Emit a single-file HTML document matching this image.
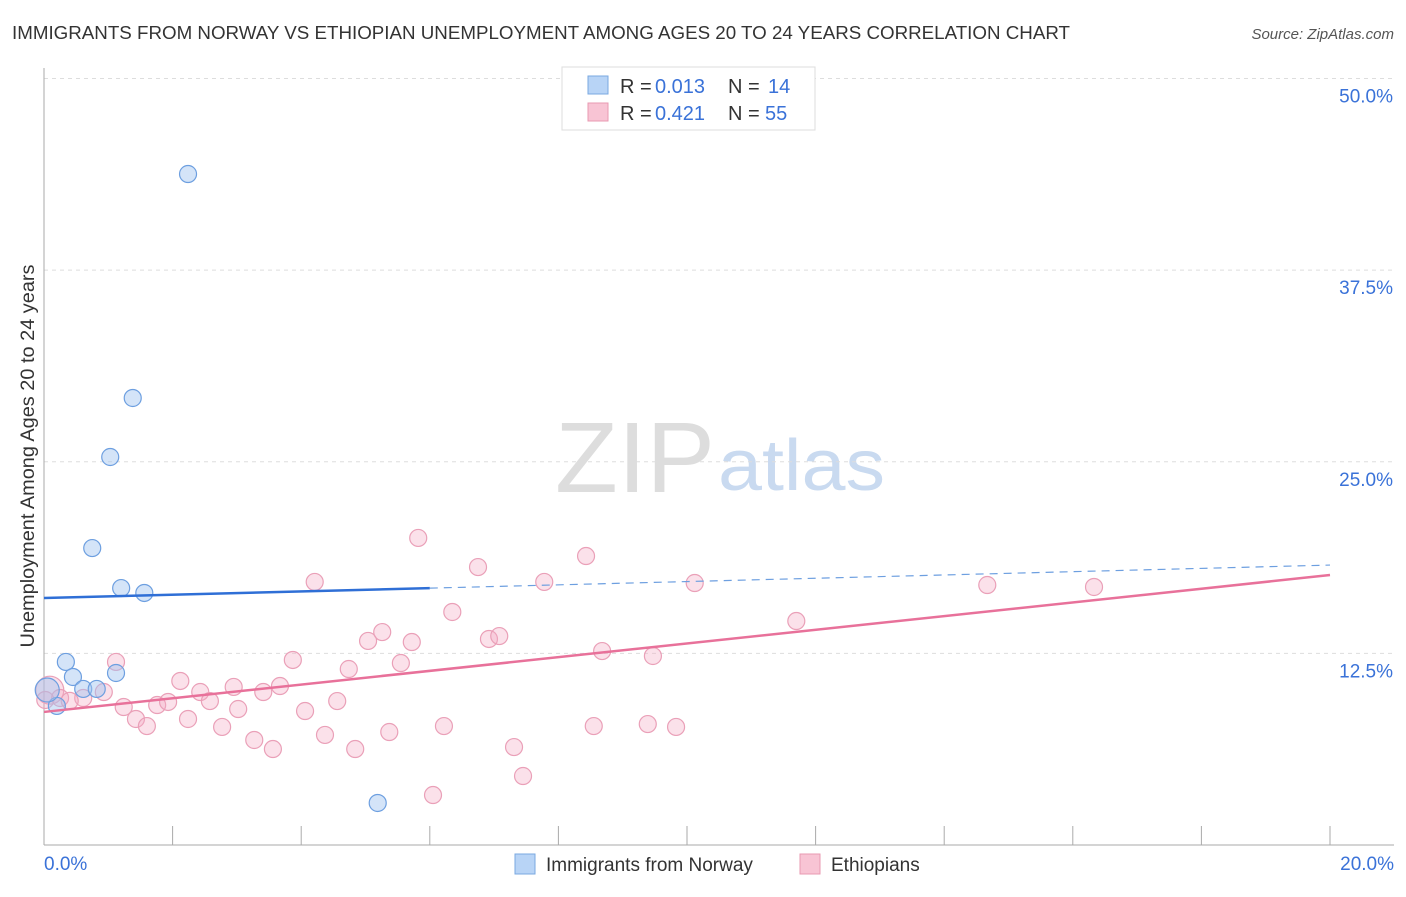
<!DOCTYPE html>
<html><head><meta charset="utf-8"><style>
body{margin:0;background:#fff;font-family:"Liberation Sans",sans-serif;}
svg text{font-family:"Liberation Sans",sans-serif;}
</style></head><body>
<svg id="c" width="1406" height="892">
<text x="12" y="39" font-size="18" fill="#333" textLength="1058" lengthAdjust="spacingAndGlyphs">IMMIGRANTS FROM NORWAY VS ETHIOPIAN UNEMPLOYMENT AMONG AGES 20 TO 24 YEARS CORRELATION CHART</text>
<text x="1394" y="39" font-size="15" fill="#555" text-anchor="end" font-style="italic">Source: ZipAtlas.com</text>
<text x="555" y="492" font-size="100" fill="#ddd" font-family="Liberation Serif" textLength="160" lengthAdjust="spacingAndGlyphs">ZIP</text>
<text x="718" y="490" font-size="72" fill="#c9daf0" textLength="167" lengthAdjust="spacingAndGlyphs">atlas</text>
<text transform="translate(34,456) rotate(-90)" font-size="19" fill="#333" text-anchor="middle" textLength="383" lengthAdjust="spacingAndGlyphs">Unemployment Among Ages 20 to 24 years</text>
<g id="grid"></g><g id="axes"></g><g id="pts"></g><g id="lines"></g>
<g>
<rect x="562" y="67" width="253" height="63" fill="#fff" stroke="#ddd"/>
<rect x="588" y="76" width="20" height="18" fill="#b8d4f6" stroke="#7aa8e0"/>
<rect x="588" y="103" width="20" height="18" fill="#f8c4d4" stroke="#e89ab2"/>
<text x="620" y="93" font-size="20" fill="#333">R =</text>
<text x="655" y="93" font-size="20" fill="#3a72d8">0.013</text>
<text x="728" y="93" font-size="20" fill="#333">N =</text>
<text x="768" y="93" font-size="20" fill="#3a72d8">14</text>
<text x="620" y="120" font-size="20" fill="#333">R =</text>
<text x="655" y="120" font-size="20" fill="#3a72d8">0.421</text>
<text x="728" y="120" font-size="20" fill="#333">N =</text>
<text x="765" y="120" font-size="20" fill="#3a72d8">55</text>
</g>
<g>
<rect x="515" y="854" width="20" height="20" fill="#b8d4f6" stroke="#7aa8e0"/>
<text x="546" y="871" font-size="19" fill="#333">Immigrants from Norway</text>
<rect x="800" y="854" width="20" height="20" fill="#f8c4d4" stroke="#e89ab2"/>
<text x="831" y="871" font-size="19" fill="#333">Ethiopians</text>
</g>
</svg>
<script>
const blueX=[2.24,1.38,1.03,0.75,1.20,1.56,0.34,0.45,1.12,0.61,0.82,0.20,0.05,5.19];
const blueY=[43.77,29.16,25.31,19.37,16.76,16.44,11.94,10.96,11.22,10.18,10.18,9.07,10.11,2.74];
const pinkX=[0.09,0.25,0.61,0.93,1.12,1.24,1.43,1.60,1.76,1.93,2.12,2.24,2.43,2.58,2.77,2.95,3.02,3.27,3.41,3.56,3.67,3.87,4.06,4.21,4.37,4.56,4.74,4.84,5.04,5.26,5.37,5.55,5.72,5.82,6.05,6.22,6.35,6.75,6.92,7.08,7.31,7.45,7.78,8.43,8.55,8.68,9.39,9.47,9.83,10.12,11.70,14.67,16.33,0.02,0.40];
const pinkY=[10.1,9.59,9.59,9.98,11.94,9.0,8.22,7.76,9.13,9.33,10.70,8.22,9.98,9.39,7.70,10.31,8.87,6.85,9.98,6.26,10.37,12.07,8.74,17.16,7.18,9.39,11.48,6.26,13.31,13.89,7.37,11.87,13.24,20.03,3.26,7.76,15.20,18.13,13.44,13.63,6.39,4.50,17.16,18.85,7.76,12.65,7.89,12.33,7.70,17.09,14.61,16.96,16.83,9.46,9.4];
const yTicks=[12.5,25,37.5,50];
const yTickLabels=["12.5%","25.0%","37.5%","50.0%"];
const xTicks=[0,2,4,6,8,10,12,14,16,18,20];
const blueTrend=[16.11,18.26];
const pinkTrend=[8.68,17.61];
const sx=v=>44+v*64.3, sy=v=>845-v*15.33;
const NS="http://www.w3.org/2000/svg";
function mk(p,t,a){const e=document.createElementNS(NS,t);for(const k in a)e.setAttribute(k,a[k]);document.getElementById(p).appendChild(e);return e;}
yTicks.forEach((t,i)=>{
 const l=mk('grid','line',{x1:44,x2:1394,y1:sy(t),y2:sy(t),stroke:'#ddd','stroke-dasharray':'4,4'});
 
 
 const tx=mk('grid','text',{x:1393,y:sy(t)+24,'font-size':19,fill:'#3a72d8','text-anchor':'end'});
 tx.textContent=yTickLabels[i];
 
 
});
let a=mk('axes','line',{x1:44,x2:44,y1:68,y2:845,stroke:'#aaa'});


a=mk('axes','line',{x1:44,x2:1394,y1:845,y2:845,stroke:'#aaa'});


xTicks.forEach(t=>{const l=mk('axes','line',{x1:sx(t),x2:sx(t),y1:826,y2:845,stroke:'#aaa'});
 
 });
let t0=mk('axes','text',{x:44,y:870,'font-size':19,fill:'#3a72d8'});t0.textContent="0.0%";


let t1=mk('axes','text',{x:1394,y:870,'font-size':19,fill:'#3a72d8','text-anchor':'end'});t1.textContent="20.0%";


pinkX.forEach((x,i)=>{const c=mk('pts','circle',{cx:sx(x),cy:sy(pinkY[i]),r:i==0?14:8.5,fill:'rgba(244,170,195,0.35)',stroke:'#eaa0b8','stroke-width':1.2});
 
 });
blueX.forEach((x,i)=>{const c=mk('pts','circle',{cx:sx(x),cy:sy(blueY[i]),r:i==12?12:8.5,fill:'rgba(160,195,240,0.45)',stroke:'#6d9fe0','stroke-width':1.2});
 
 });
const bm=blueTrend[0]+(blueTrend[1]-blueTrend[0])*6/20;
let l=mk('lines','line',{x1:sx(0),y1:sy(blueTrend[0]),x2:sx(6),y2:sy(bm),stroke:'#2f6fd6','stroke-width':2.5});


l=mk('lines','line',{x1:sx(6),y1:sy(bm),x2:sx(20),y2:sy(blueTrend[1]),stroke:'#6d9fe0','stroke-width':1.2,'stroke-dasharray':'8,6'});


l=mk('lines','line',{x1:sx(0),y1:sy(pinkTrend[0]),x2:sx(20),y2:sy(pinkTrend[1]),stroke:'#e8719a','stroke-width':2.5});


</script>
</body></html>
